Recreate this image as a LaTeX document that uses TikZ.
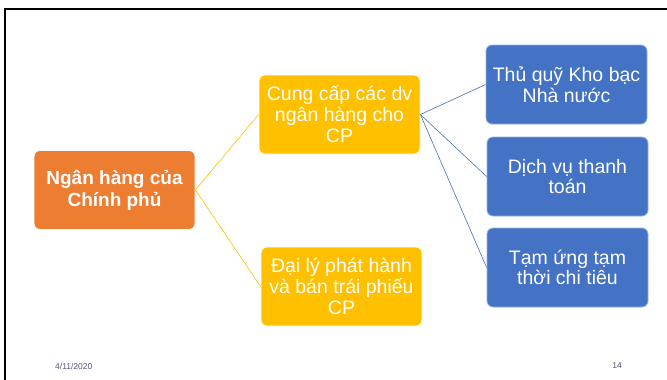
\documentclass[tikz,border=0pt]{standalone}
\usepackage{fontspec}
\setmainfont{Liberation Sans}
\usepackage{tikz}
\usetikzlibrary{shapes,arrows}
\definecolor{borange}{HTML}{ED7D31}
\definecolor{byellow}{HTML}{FFC000}
\definecolor{bblue}{HTML}{4472C4}
\definecolor{bfoot}{HTML}{55557F}
\tikzstyle{rectblock} = [rectangle, draw=white, line width=0.8pt, rounded corners=6pt, align=center, text=white, minimum width=161pt, minimum height=79pt, inner sep=0pt]
\tikzstyle{rootblock} = [rectblock, fill=borange, font=\fontsize{19}{22}\selectfont\bfseries]
\tikzstyle{midblock} = [rectblock, fill=byellow, font=\fontsize{19.5}{21}\selectfont]
\tikzstyle{leafblock} = [rectblock, fill=bblue, draw=white!45!bblue, font=\fontsize{19.5}{20.5}\selectfont]
\tikzstyle{link} = [draw, line width=0.6pt]
\tikzstyle{footer} = [text=bfoot, font=\fontsize{8.5}{9}\selectfont, inner sep=0pt]

\begin{document}
\begin{tikzpicture}[x=1pt, y=-1pt]
    \useasboundingbox (0,0) rectangle (667,380);
    \fill[white] (0,0) rectangle (667,380);
    % slide frame
    \draw[line width=2.5pt] (5,380) -- (5,9) -- (667,9);

    % root
    \node[rootblock] at (114.5, 190) (gov) {Ngân hàng của\\Chính phủ};

    % functions
    \node[midblock] at (339.5, 114.5) (svc) {Cung cấp các dv\\ngân hàng cho\\CP};
    \node[midblock] at (341.5, 286.5) (agent) {Đại lý phát hành\\và bán trái phiếu\\CP};

    % services
    \node[leafblock] at (566.5, 84.5) (treas) {Thủ quỹ Kho bạc\\Nhà nước};
    \node[leafblock] at (567.5, 176.5) (pay) {Dịch vụ thanh\\toán};
    \node[leafblock] at (567.5, 267.5) (adv) {Tạm ứng tạm\\thời chi tiêu};

    \path[link, byellow] (gov.east) to (svc.west);
    \path[link, byellow] (gov.east) to (agent.west);

    \path[link, bblue] (svc.east) to (treas.west);
    \path[link, bblue] (svc.east) to (pay.west);
    \path[link, bblue] (svc.east) to (adv.west);

    % footer
    \node[footer, anchor=west] at (55, 366) (date) {4/11/2020};
    \node[footer, anchor=east] at (622, 366) (page) {14};
\end{tikzpicture}
\end{document}
